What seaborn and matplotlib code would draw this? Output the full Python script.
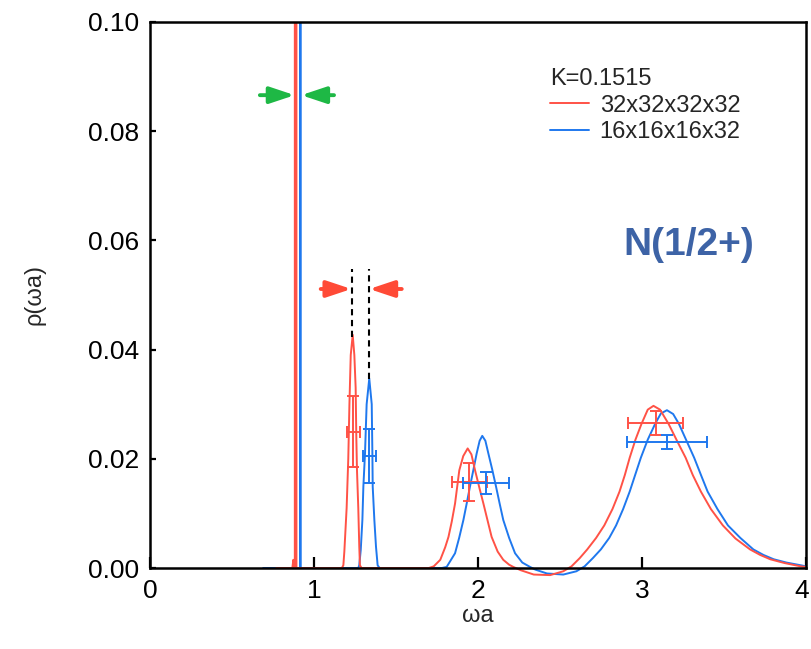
import matplotlib
matplotlib.use("Agg")
import matplotlib.pyplot as plt
import seaborn as sns
import pandas as pd
from matplotlib.lines import Line2D
from matplotlib.transforms import Bbox, TransformedBbox, ScaledTranslation

# ---------------- data ----------------
red_omega = [0.77, 0.868, 0.874, 0.879, 0.883, 0.883, 0.893, 0.893,
             1.17, 1.179, 1.185, 1.199, 1.209, 1.216, 1.224, 1.236, 1.246, 1.254, 1.258, 1.262, 1.270, 1.276, 1.280, 1.29,
             1.70, 1.73, 1.77, 1.80, 1.82, 1.84, 1.86, 1.886, 1.91, 1.937, 1.96, 1.982, 2.01, 2.033, 2.06, 2.083, 2.12, 2.154, 2.19, 2.215,
             2.26, 2.34, 2.44, 2.52, 2.57, 2.62, 2.666, 2.72, 2.770, 2.82, 2.863, 2.895, 2.925, 2.96, 2.997, 3.035, 3.07, 3.11, 3.162,
             3.215, 3.266, 3.31, 3.359, 3.42, 3.493, 3.57, 3.659, 3.72, 3.782, 3.87, 3.968, 4.0]
red_rho = [0.0, 0.0, 0.0015, 0.0003, 0.0, 0.2, 0.2, 0.0,
           0.0, 0.0005, 0.003, 0.011, 0.020, 0.030, 0.039, 0.0427, 0.039, 0.033, 0.024, 0.018, 0.011, 0.004, 0.0005, 0.0,
           0.0, 0.0003, 0.0015, 0.0038, 0.0057, 0.0085, 0.0118, 0.0179, 0.0205, 0.0219, 0.0208, 0.0179, 0.0145, 0.0118, 0.0085, 0.0057, 0.0030, 0.0015, 0.0006, 0.0002,
           -0.0004, -0.0012, -0.0013, -0.0006, 0.0003, 0.0018, 0.0034, 0.0055, 0.0078, 0.0108, 0.0140, 0.0170, 0.0202, 0.0235, 0.0264, 0.0290, 0.0297, 0.0290, 0.0264,
           0.0232, 0.0202, 0.0170, 0.0140, 0.0108, 0.0078, 0.0054, 0.0034, 0.0024, 0.0016, 0.0009, 0.0003, 0.0002]

blue_omega = [0.69, 0.9155, 0.9155, 0.9185, 0.9185,
              1.27, 1.276, 1.285, 1.295, 1.301, 1.311, 1.321, 1.337, 1.352, 1.356, 1.358, 1.368, 1.378, 1.388, 1.40,
              1.78, 1.809, 1.860, 1.885, 1.911, 1.931, 1.951, 1.972, 1.992, 2.01, 2.026, 2.045, 2.063, 2.087, 2.110, 2.132, 2.154, 2.19, 2.226, 2.27, 2.317,
              2.35, 2.42, 2.52, 2.60, 2.65, 2.70, 2.749, 2.80, 2.842, 2.885, 2.925, 2.96, 2.993, 3.035, 3.080, 3.115, 3.152, 3.19, 3.225,
              3.27, 3.318, 3.36, 3.400, 3.46, 3.524, 3.60, 3.679, 3.74, 3.803, 3.88, 3.968, 4.0]
blue_rho = [0.0, 0.0, 0.2, 0.2, 0.0,
            0.0, 0.0005, 0.0033, 0.0088, 0.0149, 0.021, 0.030, 0.0347, 0.030, 0.021, 0.0149, 0.0088, 0.0039, 0.0005, 0.0,
            0.0, 0.0002, 0.0027, 0.0055, 0.0088, 0.0118, 0.0149, 0.0180, 0.0210, 0.0233, 0.0242, 0.0233, 0.0210, 0.018, 0.0149, 0.0118, 0.0088, 0.0055, 0.0027, 0.0010, 0.0002,
            -0.0003, -0.0010, -0.0012, -0.0006, 0.0003, 0.0018, 0.0034, 0.0055, 0.0078, 0.0108, 0.0140, 0.0172, 0.0202, 0.0235, 0.0264, 0.0283, 0.0289, 0.0282, 0.0264,
            0.0234, 0.0202, 0.0170, 0.0140, 0.0108, 0.0078, 0.0055, 0.0034, 0.0024, 0.0016, 0.0010, 0.0005, 0.0003]

# error bars (centre, horizontal and vertical errors)
red_err_x = [1.240, 1.948, 3.084]
red_err_y = [0.0250, 0.0158, 0.0266]
red_err_dx = [0.040, 0.105, 0.167]
red_err_dy = [0.0065, 0.0035, 0.0022]
blue_err_x = [1.338, 2.050, 3.152]
blue_err_y = [0.0205, 0.0155, 0.0231]
blue_err_dx = [0.038, 0.140, 0.242]
blue_err_dy = [0.0050, 0.0020, 0.0013]

# peak markers (dashed lines) and arrows
dash_x = [1.230, 1.335]
dash_bottom = [0.0423, 0.0347]
dash_top = 0.0548
green_arrow_y = 0.0866
green_tails = [0.67, 1.122]
green_tips = [0.882, 0.922]
red_arrow_y = 0.0511
red_tails = [1.041, 1.535]
red_tips = [1.228, 1.337]

legend_title = "K=0.1515"
series_labels = ["32x32x32x32", "16x16x16x32"]
x_ticks = [0, 1, 2, 3, 4]
y_ticks = [0.00, 0.02, 0.04, 0.06, 0.08, 0.10]

RED = "#FF5246"
BLUE = "#1F78EE"
GREEN = "#1EB845"
ARROW_RED = "#FF4A36"

# ---------------- figure ----------------
sns.set_style("ticks")
plt.rcParams["font.family"] = ["Liberation Sans", "DejaVu Sans"]

fig = plt.figure(figsize=(8.11, 6.49), dpi=100)
ax = fig.add_axes([150 / 811, 1 - 568 / 649, 656 / 811, 546 / 649])

blue_df = pd.DataFrame({"omega": blue_omega, "rho": blue_rho})
red_df = pd.DataFrame({"omega": red_omega, "rho": red_rho})
sns.lineplot(data=blue_df, x="omega", y="rho", sort=False, estimator=None,
             color=BLUE, lw=1.4, ax=ax)
sns.lineplot(data=red_df, x="omega", y="rho", sort=False, estimator=None,
             color=RED, lw=1.4, ax=ax)

clipbox = TransformedBbox(Bbox([[0, -0.05], [1, 1]]), ax.transAxes)
for ln in ax.get_lines():
    ln.set_clip_box(clipbox)

ax.errorbar(red_err_x, red_err_y, xerr=red_err_dx, yerr=red_err_dy, fmt="none",
            ecolor=RED, elinewidth=1.4, capsize=4.5, capthick=1.4)
ax.errorbar(blue_err_x, blue_err_y, xerr=blue_err_dx, yerr=blue_err_dy, fmt="none",
            ecolor=BLUE, elinewidth=1.4, capsize=4.5, capthick=1.4)

ax.vlines(dash_x, dash_bottom, dash_top, colors="black", linestyles=(0, (3, 2.2)), lw=1.5)

astyle = "-|>,head_length=1.5,head_width=0.5"
for t, h in zip(green_tails, green_tips):
    ax.annotate("", xy=(h, green_arrow_y), xytext=(t, green_arrow_y),
                arrowprops=dict(arrowstyle=astyle, color=GREEN, lw=2.8,
                                mutation_scale=10, shrinkA=0, shrinkB=0))
for t, h in zip(red_tails, red_tips):
    ax.annotate("", xy=(h, red_arrow_y), xytext=(t, red_arrow_y),
                arrowprops=dict(arrowstyle=astyle, color=ARROW_RED, lw=2.8,
                                mutation_scale=10, shrinkA=0, shrinkB=0))

ax.text(2.884, 0.0591, "N(1/2+)", fontsize=28, fontweight="bold", color="#3D63A6",
        ha="left", va="center")

ax.set_xlim(0, 4)
ax.set_ylim(0, 0.10)
ax.set_xticks(x_ticks)
ax.set_xticklabels([str(v) for v in x_ticks])
ax.set_yticks(y_ticks)
ax.set_yticklabels([f"{v:.2f}" for v in y_ticks])
ax.tick_params(axis="x", direction="in", length=8, width=1.6, labelsize=19, pad=8, colors="black")
ax.tick_params(axis="y", direction="in", length=4, width=1.6, labelsize=19, pad=8, colors="black")
for s in ax.spines.values():
    s.set_linewidth(1.8)
    s.set_color("black")
    s.set_visible(True)

# keep the last x tick label inside the canvas
last = ax.get_xticklabels()[-1]
last.set_transform(last.get_transform() + ScaledTranslation(-4 / 100, 0, fig.dpi_scale_trans))

ax.set_xlabel("ωa", fontsize=17, labelpad=1)
ax.set_ylabel("ρ(ωa)", fontsize=17, labelpad=30)

handles = [Line2D([], [], color=RED, lw=1.4), Line2D([], [], color=BLUE, lw=1.4)]
leg = ax.legend(handles, series_labels, title=legend_title, frameon=False,
                loc="upper left", bbox_to_anchor=(550 / 811, 1 - 68 / 649),
                bbox_transform=fig.transFigure, fontsize=17, title_fontsize=17,
                handlelength=1.65, handletextpad=0.45, labelspacing=0.2,
                borderpad=0, borderaxespad=0, alignment="left")

fig.savefig("out.png", dpi=100)
